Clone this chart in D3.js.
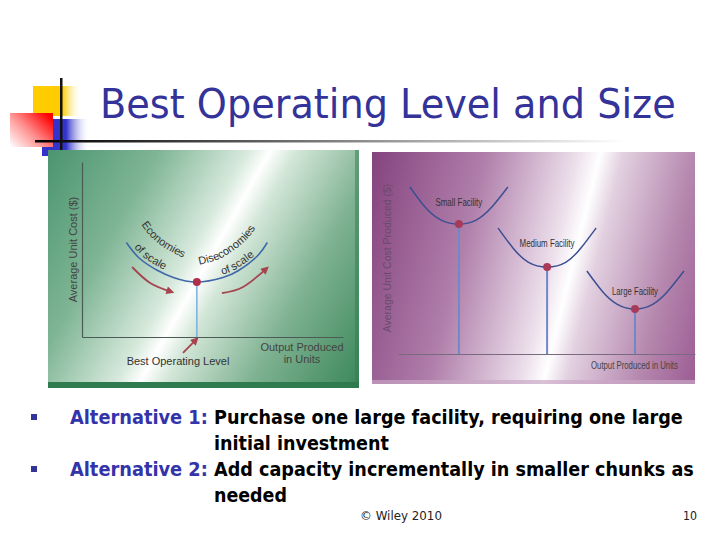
<!DOCTYPE html>
<html><head><meta charset="utf-8">
<script src="https://cdn.jsdelivr.net/npm/d3@7"></script>
<style>body{margin:0;background:#fff}svg{display:block}</style>
</head><body><svg id="c" width="720" height="540"></svg>
<script>
// ---------- data ----------
const titleText = "Best Operating Level and Size";
// left chart: average unit cost curve (x = output, y = cost, 0..100)
const leftCurveX = [17, 22, 29, 35, 44, 54, 60, 67, 71];
const leftCurveY = [54, 45, 38, 34, 31.4, 34, 38, 46, 54];
const bestLevel = {x: 44, y: 31.4};
const leftArrowEcon = [[19.2, 40], [26.1, 30.9], [34.5, 25.7]];
const leftArrowDisecon = [[53.6, 25.1], [61.7, 28.6], [70.9, 39.4]];
const bestArrow = [[38.7, -9.1], [44, -1.1]];
const leftYLabel = "Average Unit Cost ($)";
const leftXLabel = ["Output Produced", "in Units"];
const bestLabel = "Best Operating Level";
const curveWords = ["Economies", "of scale", "Diseconomies", "of scale"];
// right chart: three facility cost curves
const facilityNames = ["Small Facility", "Medium Facility", "Large Facility"];
const smallX = [4, 9.1, 14.5, 20.5, 26.3, 31.6, 37];
const smallY = [87.9, 77.4, 70.5, 68.4, 70.5, 77.4, 87.9];
const mediumX = [33.7, 38.7, 43.8, 50.2, 56.6, 61.6, 66.7];
const mediumY = [66.3, 55.8, 48.4, 45.8, 48.4, 55.8, 66.3];
const largeX = [63.6, 68.7, 73.7, 79.8, 85.9, 90.9, 96.3];
const largeY = [43.7, 33.2, 26.3, 23.7, 26.3, 33.2, 43.7];
const rightYLabel = "Average Unit Cost Produced ($)";
const rightXLabel = "Output Produced in Units";
// bullets
const bulletHeads = ["Alternative 1:", "Alternative 2:"];
const bulletLines = [["Purchase one large facility, requiring one large", "initial investment"],
                     ["Add capacity incrementally in smaller chunks as", "needed"]];
const footer = "\u00A9 Wiley 2010";
const pageNum = "10";

// ---------- drawing ----------
const svg = d3.select("#c");
const defs = svg.append("defs");
function grad(id, a, stops, user) {
  const g = defs.append("linearGradient").attr("id", id);
  if (user) g.attr("gradientUnits", "userSpaceOnUse");
  Object.entries(a).forEach(([k, v]) => g.attr(k, v));
  stops.forEach(s => g.append("stop").attr("offset", s[0]).attr("stop-color", s[1]).attr("stop-opacity", s[2] ?? 1));
}
grad("gYel", {x1: 0, y1: 0, x2: 1, y2: 0}, [[0, "#ffcc00"], [0.6, "#ffcc00"], [1, "#ffffff", 0]]);
grad("gBlue", {x1: 0, y1: 0, x2: 1, y2: 0}, [[0, "#3333cc"], [0.5, "#3333cc"], [1, "#ffffff", 0]]);
grad("gRed", {x1: 0, y1: 1, x2: 1, y2: 0.2}, [[0, "#ffffff"], [0.5, "#ff9090"], [1, "#ff0000"]]);
grad("gLine", {x1: 0, y1: 0, x2: 1, y2: 0}, [[0, "#000"], [0.15, "#222"], [0.6, "#999"], [1, "#fff"]]);
grad("gGreen", {x1: 34, y1: 176, x2: 371, y2: 366}, [[0, "#4b9570"], [0.25, "#7fb595"], [0.45, "#d8eadd"], [0.5, "#ffffff"], [0.56, "#d2e6d7"], [0.75, "#7fb292"], [1, "#3b875a"]], true);
grad("gPurple", {x1: 357, y1: 215, x2: 715, y2: 304}, [[0, "#85447e"], [0.3, "#b07fab"], [0.54, "#ecdfeb"], [0.6, "#ffffff"], [0.66, "#e2d0e0"], [0.85, "#b587ae"], [1, "#9c5d94"]], true);

const mk = defs.append("marker").attr("id", "ah").attr("viewBox", "0 0 10 10")
  .attr("refX", 7).attr("refY", 5).attr("markerUnits", "userSpaceOnUse")
  .attr("markerWidth", 9).attr("markerHeight", 8).attr("orient", "auto");
mk.append("path").attr("d", "M0,0L10,5L0,10z").attr("fill", "#a6434e");

// fit a text to a width by horizontal scaling
function fitText(sel, x, y, w) {
  const n = sel.node();
  const nat = n.getComputedTextLength();
  sel.attr("x", 0).attr("y", 0).attr("transform", `translate(${x},${y}) scale(${w / nat},1)`);
  return sel;
}

// slide decoration
svg.append("rect").attr("x", 33).attr("y", 86).attr("width", 49).attr("height", 30).attr("fill", "url(#gYel)");
svg.append("rect").attr("x", 42).attr("y", 119).attr("width", 48).attr("height", 37).attr("fill", "url(#gBlue)");
svg.append("rect").attr("x", 10).attr("y", 113).attr("width", 43).attr("height", 34).attr("fill", "url(#gRed)");
svg.append("rect").attr("x", 35).attr("y", 140).attr("width", 590).attr("height", 2.5).attr("fill", "url(#gLine)");
svg.append("rect").attr("x", 60).attr("y", 78).attr("width", 2.5).attr("height", 72).attr("fill", "#111");

// title
fitText(svg.append("text").attr("font-family", "DejaVu Sans").attr("font-size", 41).attr("fill", "#333399").text(titleText), 100, 118, 576);

// ----- left panel -----
svg.append("rect").attr("x", 48).attr("y", 150).attr("width", 311).attr("height", 238).attr("fill", "url(#gGreen)");
svg.append("rect").attr("x", 48).attr("y", 382).attr("width", 311).attr("height", 6).attr("fill", "#2f7b50");
svg.append("rect").attr("x", 355).attr("y", 150).attr("width", 4).attr("height", 232).attr("fill", "#2f7b50").attr("opacity", 0.5);

const xL = d3.scaleLinear([0, 100], [82, 343]);
const yL = d3.scaleLinear([0, 100], [337, 162]);
const gL = svg.append("g");
gL.append("g").attr("transform", `translate(0,${yL(0)})`).call(d3.axisBottom(xL).tickValues([]).tickSizeOuter(0))
  .select(".domain").attr("stroke", "#4a5a55").attr("stroke-width", 1.2);
gL.append("g").attr("transform", `translate(${xL(0)},0)`).call(d3.axisLeft(yL).tickValues([]).tickSizeOuter(0))
  .select(".domain").attr("stroke", "#4a5a55").attr("stroke-width", 1.2);

const leftPts = leftCurveX.map((x, i) => ({x, y: leftCurveY[i]}));
const lineL = (dx, dy) => d3.line().x(d => xL(d.x) + dx).y(d => yL(d.y) + dy).curve(d3.curveNatural);
gL.append("line").attr("x1", xL(bestLevel.x)).attr("x2", xL(bestLevel.x)).attr("y1", yL(bestLevel.y)).attr("y2", yL(0))
  .attr("stroke", "#7eb3e3").attr("stroke-width", 1.6);
gL.append("path").attr("d", lineL(0, 0)(leftPts)).attr("fill", "none").attr("stroke", "#3f67aa").attr("stroke-width", 1.6);
gL.append("circle").attr("cx", xL(bestLevel.x)).attr("cy", yL(bestLevel.y)).attr("r", 4).attr("fill", "#b0304a");

const arrowLine = d3.line().x(d => xL(d[0])).y(d => yL(d[1])).curve(d3.curveNatural);
[leftArrowEcon, leftArrowDisecon, bestArrow].forEach(a => {
  gL.append("path").attr("d", arrowLine(a)).attr("fill", "none").attr("stroke", "#a6434e")
    .attr("stroke-width", 1.8).attr("marker-end", "url(#ah)");
});

// curved words
function lenAtX(node, x) {
  let lo = 0, hi = node.getTotalLength();
  for (let i = 0; i < 40; i++) { const m = (lo + hi) / 2; if (node.getPointAtLength(m).x < x) lo = m; else hi = m; }
  return lo;
}
const wordSpecs = [[15, -18, 141], [2, -3, 134], [-11, -16, 199], [0, -3, 222]];
wordSpecs.forEach((s, i) => {
  const p = defs.append("path").attr("id", "wp" + i).attr("d", lineL(s[0], s[1])(leftPts));
  const off = lenAtX(p.node(), s[2]);
  gL.append("text").attr("font-family", "Liberation Sans").attr("font-size", 11).attr("fill", "#333")
    .append("textPath").attr("href", "#wp" + i).attr("startOffset", off).text(curveWords[i]);
});

gL.append("text").attr("transform", `translate(77,${(yL(0) + yL(100)) / 2 + 0}) rotate(-90)`).attr("text-anchor", "middle")
  .attr("font-family", "Liberation Sans").attr("font-size", 11).attr("fill", "#444").text(leftYLabel);
gL.append("text").attr("x", 178).attr("y", 365).attr("text-anchor", "middle")
  .attr("font-family", "Liberation Sans").attr("font-size", 11).attr("fill", "#333").text(bestLabel);
leftXLabel.forEach((t, i) => gL.append("text").attr("x", 302).attr("y", 351 + i * 12).attr("text-anchor", "middle")
  .attr("font-family", "Liberation Sans").attr("font-size", 11).attr("fill", "#444").text(t));

// ----- right panel -----
svg.append("rect").attr("x", 372).attr("y", 152).attr("width", 323).attr("height", 232).attr("fill", "url(#gPurple)");
svg.append("rect").attr("x", 372).attr("y", 380).attr("width", 323).attr("height", 4).attr("fill", "#c9a6c4").attr("opacity", 0.7);

const xR = d3.scaleLinear([0, 100], [398, 695]);
const yR = d3.scaleLinear([0, 100], [354, 164]);
const gR = svg.append("g");
gR.append("g").attr("transform", `translate(0,${yR(0)})`).call(d3.axisBottom(xR).tickValues([]).tickSizeOuter(0))
  .select(".domain").attr("stroke", "#7a6a80").attr("stroke-width", 1);

const facilities = [[smallX, smallY], [mediumX, mediumY], [largeX, largeY]];
const lineR = d3.line().x(d => xR(d.x)).y(d => yR(d.y)).curve(d3.curveNatural);
const labelDy = [-18, -20, -14];
facilities.forEach(([xs, ys], i) => {
  const pts = xs.map((x, j) => ({x, y: ys[j]}));
  const mi = d3.minIndex(ys);
  gR.append("line").attr("x1", xR(xs[mi])).attr("x2", xR(xs[mi])).attr("y1", yR(ys[mi])).attr("y2", yR(0))
    .attr("stroke", "#7088c6").attr("stroke-width", 2);
  gR.append("path").attr("d", lineR(pts)).attr("fill", "none").attr("stroke", "#3d4f92").attr("stroke-width", 1.5);
  gR.append("circle").attr("cx", xR(xs[mi])).attr("cy", yR(ys[mi])).attr("r", 4).attr("fill", "#a83a5a");
  const w = [47, 55, 46][i];
  fitText(gR.append("text").attr("font-family", "Liberation Sans").attr("font-size", 10.5).attr("fill", "#333").text(facilityNames[i]),
    xR(xs[mi]) - w / 2, yR(ys[mi]) + labelDy[i], w);
});
gR.append("text").attr("transform", "translate(391,258) rotate(-90)").attr("text-anchor", "middle")
  .attr("font-family", "Liberation Sans").attr("font-size", 10.5).attr("fill", "#6a4a6a").text(rightYLabel);
fitText(gR.append("text").attr("font-family", "Liberation Sans").attr("font-size", 10.5).attr("fill", "#444").text(rightXLabel), 591, 369, 87);

// ----- bullets -----
const headW = 138, lineW = [[469, 175], [480, 73]];
bulletHeads.forEach((h, i) => {
  const y0 = 424 + i * 52;
  svg.append("rect").attr("x", 31).attr("y", y0 - 10).attr("width", 6).attr("height", 6).attr("fill", "#333399");
  fitText(svg.append("text").attr("font-family", "DejaVu Sans").attr("font-weight", "bold").attr("font-size", 19.5)
    .attr("fill", "#3333aa").text(h), 70, y0, headW);
  bulletLines[i].forEach((t, j) => {
    fitText(svg.append("text").attr("font-family", "DejaVu Sans").attr("font-weight", "bold").attr("font-size", 19.5)
      .attr("fill", "#000").text(t), 214, y0 + j * 26, lineW[i][j]);
  });
});
fitText(svg.append("text").attr("font-family", "DejaVu Sans").attr("font-size", 13).attr("fill", "#222").text(footer), 360, 520, 82);
fitText(svg.append("text").attr("font-family", "DejaVu Sans").attr("font-size", 13).attr("fill", "#222").text(pageNum), 683, 520, 14);
</script></body></html>
